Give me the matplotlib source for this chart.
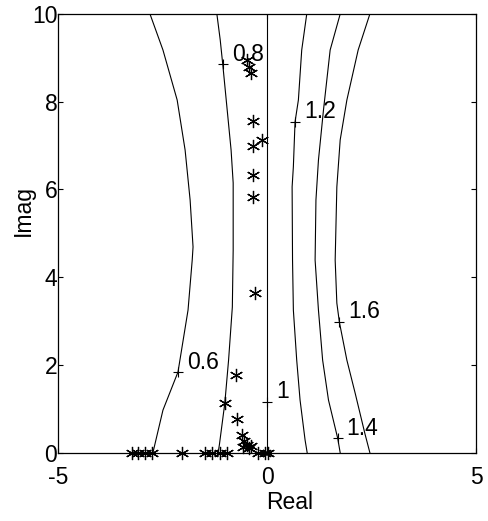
import matplotlib
matplotlib.use("Agg")
import matplotlib.pyplot as plt

plt.rcParams['font.family'] = ['Liberation Sans', 'DejaVu Sans']
plt.rcParams['axes.unicode_minus'] = False

# contour levels traced as (real, imag) polylines
c06_re = [-2.80, -2.49, -2.15, -1.96, -1.84, -1.77, -1.79, -1.89, -2.13, -2.49, -2.73]
c06_im = [10.0, 9.18, 8.04, 6.90, 5.76, 4.69, 4.39, 3.25, 1.84, 0.97, 0.0]

c08_re = [-1.20, -1.12, -1.06, -0.96, -0.86, -0.81, -0.81, -0.83, -0.92, -1.01, -1.14, -1.17]
c08_im = [10.0, 9.41, 8.86, 7.88, 6.90, 6.15, 4.62, 3.32, 2.11, 1.13, 0.18, 0.0]

c10_re = [0.0, 0.0]
c10_im = [0.0, 10.0]

c12_re = [0.95, 0.83, 0.75, 0.67, 0.63, 0.60, 0.61, 0.63, 0.71, 0.79, 0.91, 0.96]
c12_im = [10.0, 9.18, 8.04, 7.54, 6.52, 6.06, 4.39, 3.25, 2.11, 1.20, 0.29, 0.0]

c14_re = [1.75, 1.51, 1.35, 1.23, 1.17, 1.15, 1.23, 1.33, 1.47, 1.69, 1.75]
c14_im = [10.0, 9.18, 7.81, 6.67, 5.76, 4.39, 3.25, 2.11, 1.20, 0.33, 0.0]

c16_re = [2.46, 2.18, 1.91, 1.75, 1.67, 1.63, 1.67, 1.73, 1.91, 2.11, 2.34, 2.46]
c16_im = [10.0, 9.18, 8.04, 7.13, 6.06, 4.39, 3.41, 2.98, 2.11, 1.35, 0.44, 0.0]

contours = [(c06_re, c06_im), (c08_re, c08_im), (c10_re, c10_im),
            (c12_re, c12_im), (c14_re, c14_im), (c16_re, c16_im)]

# clabel points
lab_text = ['0.6', '0.8', '1', '1.2', '1.4', '1.6']
lab_re = [-2.13, -1.06, 0.0, 0.67, 1.69, 1.73]
lab_im = [1.84, 8.86, 1.16, 7.54, 0.33, 2.98]

# roots
root_re = [-0.49, -0.42, -0.39, -0.33, -0.33, -0.13, -0.33, -0.33, -0.29,
           -0.75, -1.00, -0.72, -0.60, -0.49, -0.55, -0.43, -0.57, -0.38,
           -3.24, -3.08, -2.92, -2.76, -2.04, -1.48, -1.32, -1.12, -0.96,
           -0.21, -0.05, 0.03]
root_im = [8.95, 8.80, 8.65, 7.55, 6.99, 7.13, 6.33, 5.84, 3.63,
           1.77, 1.14, 0.76, 0.40, 0.18, 0.27, 0.10, 0.13, 0.15,
           0.0, 0.0, 0.0, 0.0, 0.0, 0.0, 0.0, 0.0, 0.0,
           0.0, 0.0, 0.0]

fig = plt.figure(figsize=(4.88, 5.21), dpi=100)
ax = fig.add_axes([0.1189, 0.1311, 0.8566, 0.8420])

for re, im in contours:
    ax.plot(re, im, color='black', linewidth=0.8)

ax.plot(lab_re, lab_im, linestyle='none', marker='+', markersize=7,
        markeredgewidth=0.8, color='black')
for t, x, y in zip(lab_text, lab_re, lab_im):
    ax.annotate(t, xy=(x, y), xytext=(6.5, 2.5), textcoords='offset points',
                ha='left', va='baseline', fontsize=16.5)

ax.plot(root_re, root_im, linestyle='none', marker=(6, 2, 0), markersize=9.5,
        markeredgewidth=0.9, color='black', clip_on=False)

ax.set_xlim(-5, 5)
ax.set_ylim(0, 10)
ax.set_xticks([-5, 0, 5])
ax.set_yticks([0, 2, 4, 6, 8, 10])
ax.tick_params(direction='in', top=True, right=True, length=3.5, width=0.8,
               labelsize=16.5)
ax.tick_params(axis='x', pad=9.5)
ax.tick_params(axis='y', pad=0.5)
for s in ax.spines.values():
    s.set_linewidth(0.9)

ax.set_xlabel('Real', fontsize=16.5)
ax.set_ylabel('Imag', fontsize=16.5)
ax.xaxis.set_label_coords(0.553, -0.087)
ax.yaxis.set_label_coords(-0.055, 0.553)

fig.savefig('out.png', dpi=100)
